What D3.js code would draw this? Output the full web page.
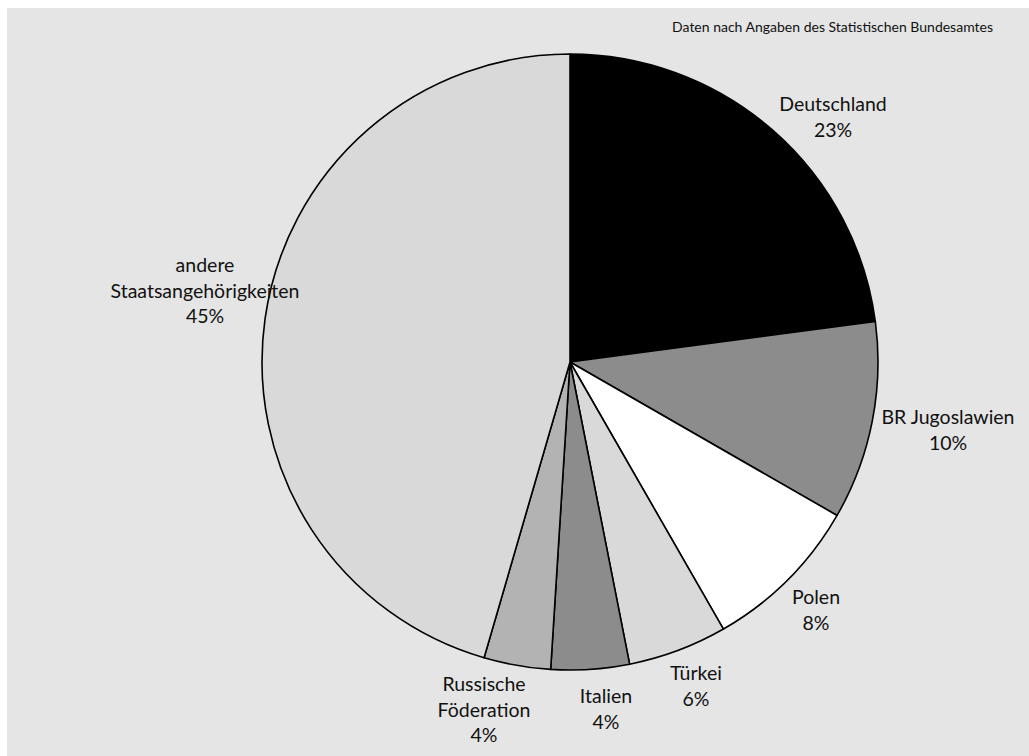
<!DOCTYPE html>
<html><head><meta charset="utf-8">
<script src="https://cdn.jsdelivr.net/npm/d3@7"></script>
<style>body{margin:0;background:#fff;} svg{display:block;}</style>
</head><body>
<svg id="c" width="1029" height="756"></svg>
<script>
const categories = ["Deutschland","BR Jugoslawien","Polen","Türkei","Italien","Russische Föderation","andere Staatsangehörigkeiten"];
const values = [22.9, 10.4, 8.4, 5.2, 4.1, 3.5, 45.5];
const percentLabels = ["23%","10%","8%","6%","4%","4%","45%"];
const labelLines = [["Deutschland"],["BR Jugoslawien"],["Polen"],["Türkei"],["Italien"],["Russische","Föderation"],["andere","Staatsangehörigkeiten"]];
const colors = ["#000000","#8c8c8c","#ffffff","#d9d9d9","#8c8c8c","#b3b3b3","#d9d9d9"];
const source = "Daten nach Angaben des Statistischen Bundesamtes";

// label layout (anchor of first line, relative to pie centre)
const labelAnchor = [[263,-251],[378,62],[246,242],[126,318],[36,341],[-86,329],[-365,-90]];

const W=1029,H=756, cx=570, cy=362, R=308;
const svg = d3.select("#c");
svg.append("rect").attr("x",7).attr("y",8).attr("width",W-7).attr("height",H-8).attr("fill","#e5e5e5");
svg.append("text").attr("x",993).attr("y",32).attr("text-anchor","end")
  .attr("font-family","Lato, sans-serif").attr("font-size",14).attr("fill","#111").text(source);

const data = categories.map((c,i)=>({c, v:values[i], i}));
const pie = d3.pie().value(d=>d.v).sort(null);
const arc = d3.arc().innerRadius(0).outerRadius(R);
const g = svg.append("g").attr("transform",`translate(${cx},${cy})`);
g.selectAll("path").data(pie(data)).join("path")
  .attr("d",arc).attr("fill",d=>colors[d.data.i]).attr("stroke","#000").attr("stroke-width",1.6).attr("stroke-linejoin","round");

const lab = g.selectAll("text.l").data(pie(data)).join("text").attr("class","l")
  .attr("font-family","Lato, sans-serif").attr("font-size",19.5).attr("fill","#111").attr("text-anchor","middle")
  .attr("transform",d=>`translate(${labelAnchor[d.data.i][0]},${labelAnchor[d.data.i][1]})`);
lab.each(function(d){
  const t=d3.select(this);
  const lines = labelLines[d.data.i].concat([percentLabels[d.data.i]]);
  lines.forEach((s,k)=>t.append("tspan").attr("x",0).attr("y",k*25.5).text(s));
});
</script>
</body></html>
